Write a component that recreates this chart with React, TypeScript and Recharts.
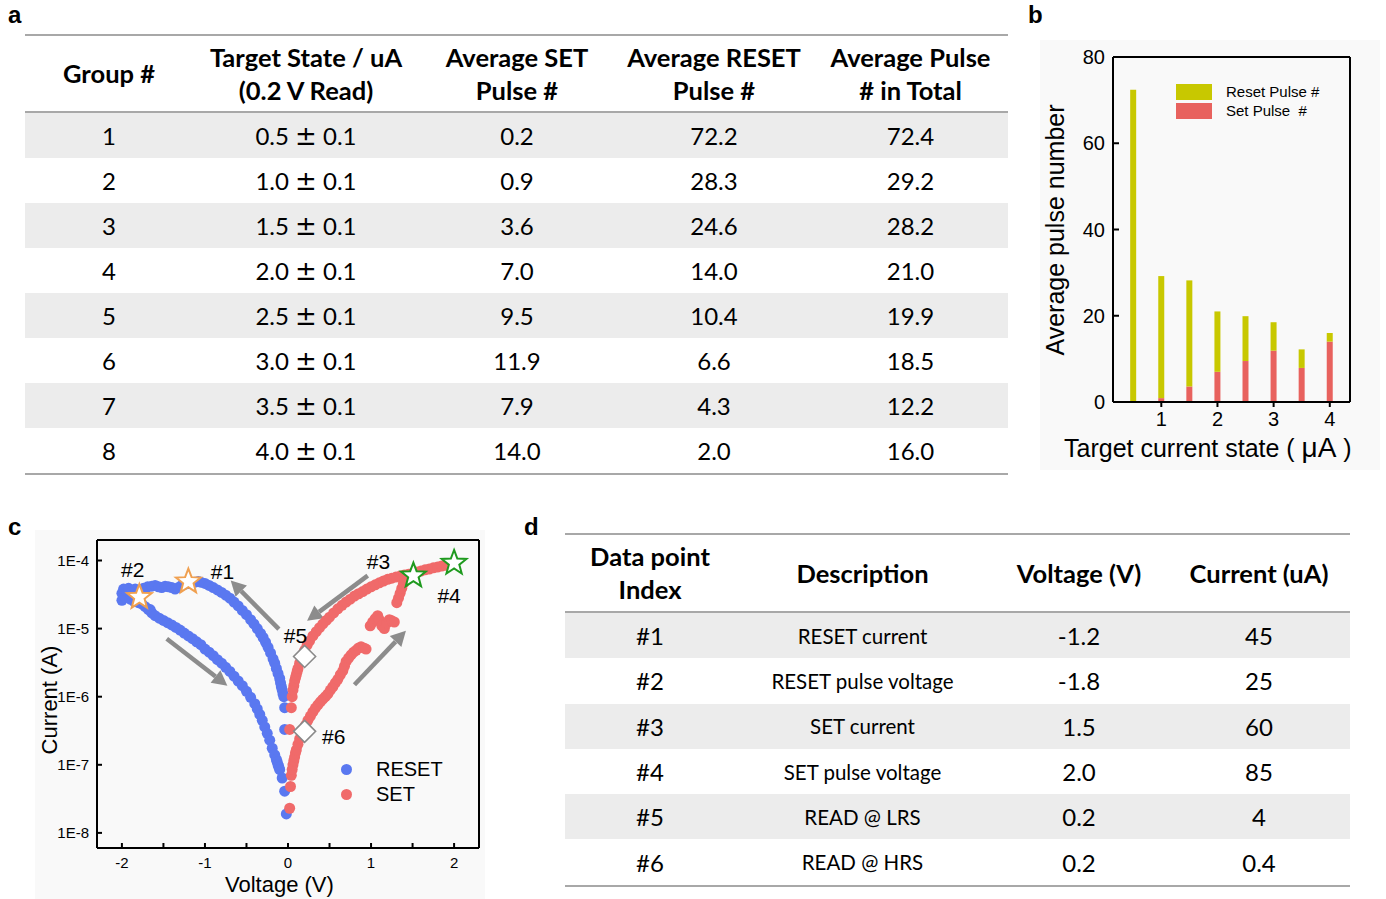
import React from "react";
import {
  BarChart,
  Bar,
  XAxis,
  YAxis,
  ScatterChart,
  Scatter,
  ReferenceLine,
  Legend,
} from "recharts";

// ─── Table a / panel b data ────────────────────────────────────────────────
const groups = ["1", "2", "3", "4", "5", "6", "7", "8"];
const targetStates = ["0.5", "1.0", "1.5", "2.0", "2.5", "3.0", "3.5", "4.0"];
const targetCurrents = [0.5, 1.0, 1.5, 2.0, 2.5, 3.0, 3.5, 4.0];
const setPulses = [0.2, 0.9, 3.6, 7.0, 9.5, 11.9, 7.9, 14.0];
const resetPulses = [72.2, 28.3, 24.6, 14.0, 10.4, 6.6, 4.3, 2.0];
const totalPulses = [72.4, 29.2, 28.2, 21.0, 19.9, 18.5, 12.2, 16.0];
const bXTicks = [1, 2, 3, 4];
const bYTicks = [0, 20, 40, 60, 80];
const bYMinorTicks = [0, 10, 20, 30, 40, 50, 60, 70, 80];

// ─── Table d data ──────────────────────────────────────────────────────────
const pointIndex = ["#1", "#2", "#3", "#4", "#5", "#6"];
const pointDesc = [
  "RESET current",
  "RESET pulse voltage",
  "SET current",
  "SET pulse voltage",
  "READ @ LRS",
  "READ @ HRS",
];
const pointVoltage = ["-1.2", "-1.8", "1.5", "2.0", "0.2", "0.2"];
const pointCurrent = ["45", "25", "60", "85", "4", "0.4"];

// ─── Panel c data (voltage V, current A) ───────────────────────────────────
const resetTop: [number, number][] = [
  [-2.0, 2.6e-5], [-2.0, 3.3e-5], [-1.98, 3.8e-5], [-1.96, 2.9e-5], [-1.94, 3.5e-5],
  [-1.92, 3.9e-5], [-1.9, 2.7e-5], [-1.88, 3.4e-5], [-1.85, 2.5e-5], [-1.84, 3.8e-5],
  [-1.8, 2.4e-5], [-1.79, 3.6e-5], [-1.76, 2.3e-5], [-1.74, 3.9e-5], [-1.72, 2.1e-5],
  [-1.69, 4.1e-5], [-1.68, 1.9e-5], [-1.64, 4.2e-5], [-1.64, 1.7e-5], [-1.6, 4.3e-5],
  [-1.56, 4.1e-5], [-1.52, 4.0e-5], [-1.48, 4.2e-5], [-1.44, 4.1e-5], [-1.4, 4.0e-5],
  [-1.36, 3.8e-5], [-1.32, 4.0e-5], [-1.28, 4.3e-5], [-1.24, 4.5e-5], [-1.2, 4.6e-5],
  [-1.16, 4.7e-5], [-1.12, 4.8e-5], [-1.08, 4.9e-5],
];
const resetUpper: [number, number][] = [
  [-1.05, 4.8e-5], [-1.0, 4.6e-5], [-0.95, 4.3e-5], [-0.9, 4.0e-5], [-0.85, 3.7e-5],
  [-0.8, 3.4e-5], [-0.75, 3.1e-5], [-0.7, 2.8e-5], [-0.65, 2.45e-5], [-0.6, 2.15e-5],
  [-0.55, 1.85e-5], [-0.5, 1.6e-5], [-0.45, 1.35e-5], [-0.41, 1.17e-5], [-0.37, 1.0e-5],
  [-0.33, 8.5e-6], [-0.3, 7.4e-6], [-0.27, 6.3e-6], [-0.24, 5.3e-6], [-0.21, 4.4e-6],
  [-0.18, 3.6e-6], [-0.16, 3.1e-6], [-0.14, 2.6e-6], [-0.12, 2.2e-6], [-0.1, 1.85e-6],
  [-0.09, 1.6e-6], [-0.08, 1.4e-6], [-0.07, 1.25e-6], [-0.06, 1.1e-6], [-0.05, 1.0e-6],
  [-0.04, 6.9e-7], [-0.04, 3.3e-7],
];
const resetLower: [number, number][] = [
  [-1.66, 1.9e-5], [-1.6, 1.55e-5], [-1.55, 1.42e-5], [-1.5, 1.32e-5], [-1.45, 1.22e-5],
  [-1.4, 1.13e-5], [-1.35, 1.04e-5], [-1.3, 9.5e-6], [-1.25, 8.6e-6], [-1.2, 7.8e-6],
  [-1.15, 7.1e-6], [-1.1, 6.4e-6], [-1.05, 5.8e-6], [-1.0, 5.0e-6], [-0.95, 4.5e-6],
  [-0.9, 4.0e-6], [-0.85, 3.5e-6], [-0.8, 3.1e-6], [-0.75, 2.7e-6], [-0.7, 2.35e-6],
  [-0.65, 2.0e-6], [-0.6, 1.7e-6], [-0.55, 1.45e-6], [-0.5, 1.2e-6], [-0.45, 9.8e-7],
  [-0.4, 7.9e-7], [-0.37, 6.6e-7], [-0.34, 5.5e-7], [-0.31, 4.5e-7], [-0.28, 3.6e-7],
  [-0.25, 2.9e-7], [-0.22, 2.3e-7], [-0.19, 1.75e-7], [-0.16, 1.4e-7], [-0.14, 1.2e-7],
  [-0.13, 1.1e-7], [-0.12, 1.0e-7], [-0.11, 9.2e-8], [-0.1, 8.5e-8], [-0.07, 6.4e-8],
  [-0.04, 4.1e-8], [-0.02, 1.9e-8],
];
const setUpper: [number, number][] = [
  [0.04, 6.9e-7], [0.02, 3.3e-7],
  [0.05, 1.0e-6], [0.06, 1.25e-6], [0.07, 1.45e-6], [0.08, 1.7e-6], [0.09, 1.9e-6],
  [0.1, 2.1e-6], [0.11, 2.35e-6], [0.12, 2.6e-6], [0.14, 3.1e-6], [0.16, 3.6e-6],
  [0.18, 4.2e-6], [0.2, 4.8e-6], [0.23, 5.7e-6], [0.26, 6.6e-6], [0.3, 7.8e-6],
  [0.34, 9.0e-6], [0.38, 1.03e-5], [0.42, 1.17e-5], [0.46, 1.32e-5], [0.5, 1.47e-5],
  [0.55, 1.7e-5], [0.6, 1.95e-5], [0.65, 2.2e-5], [0.7, 2.45e-5], [0.75, 2.7e-5],
  [0.8, 3.0e-5], [0.85, 3.25e-5], [0.9, 3.5e-5], [0.95, 3.8e-5], [1.0, 4.1e-5],
  [1.05, 4.4e-5], [1.1, 4.7e-5], [1.15, 5.0e-5], [1.2, 5.3e-5], [1.25, 5.5e-5],
  [1.3, 5.7e-5], [1.35, 5.9e-5], [1.4, 6.1e-5], [1.45, 6.3e-5], [1.5, 6.5e-5],
  [1.55, 6.8e-5], [1.6, 7.0e-5], [1.65, 7.3e-5], [1.7, 7.5e-5], [1.75, 7.8e-5],
  [1.8, 8.0e-5], [1.85, 8.3e-5], [1.9, 8.5e-5], [1.95, 8.7e-5], [2.0, 8.9e-5],
];
const setLower: [number, number][] = [
  [0.02, 2.3e-8], [0.03, 4.8e-8], [0.04, 7.0e-8], [0.05, 8.5e-8], [0.06, 1.0e-7],
  [0.07, 1.15e-7], [0.08, 1.3e-7], [0.09, 1.5e-7], [0.1, 1.65e-7], [0.12, 2.0e-7],
  [0.14, 2.4e-7], [0.16, 2.8e-7], [0.18, 3.2e-7], [0.21, 3.8e-7], [0.24, 4.5e-7],
  [0.27, 5.2e-7], [0.3, 6.0e-7], [0.33, 6.8e-7], [0.36, 7.6e-7], [0.39, 8.4e-7],
  [0.42, 9.2e-7], [0.45, 1.0e-6], [0.48, 1.1e-6], [0.51, 1.25e-6], [0.54, 1.4e-6],
  [0.57, 1.6e-6], [0.6, 1.8e-6], [0.63, 2.1e-6], [0.66, 2.4e-6], [0.68, 2.8e-6],
  [0.7, 3.3e-6], [0.73, 3.7e-6], [0.76, 4.1e-6], [0.79, 4.5e-6], [0.82, 4.8e-6],
  [0.85, 5.2e-6], [0.88, 5.4e-6], [0.91, 5.2e-6], [0.94, 5.0e-6], [0.99, 1.1e-5],
  [1.02, 1.25e-5], [1.05, 1.4e-5], [1.08, 1.55e-5], [1.1, 1.35e-5], [1.13, 1.1e-5],
  [1.16, 1.0e-5], [1.19, 1.2e-5], [1.22, 1.35e-5], [1.25, 1.3e-5], [1.28, 1.25e-5],
  [1.31, 2.4e-5], [1.33, 2.8e-5], [1.35, 3.3e-5], [1.37, 3.9e-5], [1.39, 4.6e-5],
  [1.41, 5.3e-5],
];
const orangeStars: [number, number][] = [[-1.79, 2.9e-5], [-1.2, 4.9e-5]];
const greenStars: [number, number][] = [[1.51, 6.0e-5], [2.0, 9.2e-5]];
const readDiamonds: [number, number][] = [[0.2, 3.9e-6], [0.2, 3.1e-7]];
const pointLabels: { v: number; i: number; text: string }[] = [
  { v: -1.87, i: 7.3e-5, text: "#2" },
  { v: -0.79, i: 6.8e-5, text: "#1" },
  { v: 1.09, i: 9.6e-5, text: "#3" },
  { v: 1.94, i: 3.1e-5, text: "#4" },
  { v: 0.09, i: 7.8e-6, text: "#5" },
  { v: 0.55, i: 2.6e-7, text: "#6" },
];
// sweep-direction arrows: [from, to]
const sweepArrows: [number, number, number, number][] = [
  [-1.46, 7.1e-6, -0.73, 1.45e-6],
  [-0.11, 9.8e-6, -0.69, 5.1e-5],
  [0.96, 6.0e-5, 0.23, 1.3e-5],
  [0.8, 1.5e-6, 1.42, 9.3e-6],
];
const cXTicks = [-2, -1.5, -1, -0.5, 0, 0.5, 1, 1.5, 2];
const cYTicks = [1e-8, 1e-7, 1e-6, 1e-5, 1e-4];

const ARIAL = "'Liberation Sans', Arial, sans-serif";
const TABLE_FONT = "Lato, 'Open Sans', sans-serif";
const RULE = "#a8a8a8";
const STRIPE = "#ececec";

const toPts = (arr: [number, number][]) => arr.map(([v, i]) => ({ v, i }));

// ─── Generic table ─────────────────────────────────────────────────────────
function DataTable(props: {
  left: number;
  top: number;
  widths: number[];
  header: string[][];
  rows: React.ReactNode[][];
  headerH: number;
  rowH: number;
  sizes: number[];
}) {
  const { left, top, widths, header, rows, headerH, rowH, sizes } = props;
  const total = widths.reduce((a, b) => a + b, 0);
  return (
    <div style={{ position: "absolute", left, top, width: total, fontFamily: TABLE_FONT, color: "#000" }}>
      <div style={{ borderTop: `2px solid ${RULE}`, borderBottom: `2px solid ${RULE}`, height: headerH, display: "flex" }}>
        {header.map((lines, c) => (
          <div
            key={c}
            style={{
              width: widths[c],
              display: "flex",
              flexDirection: "column",
              justifyContent: "center",
              alignItems: "center",
              fontWeight: 700,
              fontSize: 25.5,
              lineHeight: "33px",
              whiteSpace: "nowrap",
            }}
          >
            {lines.map((l, k) => (
              <div key={k}>{l}</div>
            ))}
          </div>
        ))}
      </div>
      {rows.map((r, ri) => (
        <div key={ri} style={{ display: "flex", height: rowH, background: ri % 2 === 0 ? STRIPE : "#fff" }}>
          {r.map((cell, c) => (
            <div
              key={c}
              style={{
                width: widths[c],
                display: "flex",
                alignItems: "center",
                justifyContent: "center",
                fontSize: sizes[c],
                whiteSpace: "pre",
              }}
            >
              {cell}
            </div>
          ))}
        </div>
      ))}
      <div style={{ borderTop: `2px solid ${RULE}` }} />
    </div>
  );
}

// ─── Panel b ───────────────────────────────────────────────────────────────
const pulseData = targetCurrents.map((x, k) => ({ x, set: setPulses[k], reset: resetPulses[k] }));

function PulseLegend() {
  const items = [
    { label: "Reset Pulse #", color: "#c8c800" },
    { label: "Set Pulse  #", color: "#e8625e" },
  ];
  return (
    <div style={{ fontFamily: ARIAL, fontSize: 15, whiteSpace: "pre" }}>
      {items.map((it) => (
        <div key={it.label} style={{ display: "flex", alignItems: "center", height: 19 }}>
          <div style={{ width: 36, height: 16, background: it.color, marginRight: 14 }} />
          <span>{it.label}</span>
        </div>
      ))}
    </div>
  );
}

function LeftTick(props: any) {
  const { x, y, payload } = props;
  return (
    <text x={x} y={y} textAnchor="end" dominantBaseline="central" fontFamily={ARIAL} fontSize={20} fill="#000">
      {payload.value}
    </text>
  );
}

function PulseChart() {
  return (
    <div style={{ position: "absolute", left: 1040, top: 40, width: 340, height: 430, background: "#f9f9f9" }}>
      <BarChart width={340} height={430} data={pulseData} margin={{ top: 16, right: 30, bottom: 40, left: 0 }}>
        <XAxis
          dataKey="x"
          type="number"
          domain={[0.14, 4.36]}
          ticks={bXTicks}
          allowDataOverflow
          height={28}
          tickSize={5}
          tickMargin={5}
          stroke="#000"
          strokeWidth={2}
          tick={{ fontFamily: ARIAL, fontSize: 20, fill: "#000" }}
        />
        <XAxis xAxisId="top" orientation="top" type="number" domain={[0.14, 4.36]} height={1} tick={false} tickLine={false} stroke="#000" strokeWidth={2} />
        <YAxis
          type="number"
          domain={[0, 80]}
          ticks={bYTicks}
          width={73}
          tickSize={-6}
          tickMargin={14}
          stroke="#000"
          strokeWidth={2}
          tick={<LeftTick />}
        />
        <YAxis yAxisId="right" orientation="right" type="number" domain={[0, 80]} ticks={bYMinorTicks} width={1} mirror tickSize={6} tick={false} stroke="#000" strokeWidth={2} />
        <Legend
          layout="vertical"
          align="center"
          verticalAlign="middle"
          wrapperStyle={{ left: 136, top: 42, width: 180 }}
          content={<PulseLegend />}
        />
        <Bar dataKey="set" stackId="p" fill="#e8625e" barSize={6} isAnimationActive={false} />
        <Bar dataKey="reset" stackId="p" fill="#c8c800" barSize={6} isAnimationActive={false} />
      </BarChart>
      <div
        style={{
          position: "absolute",
          left: 15,
          top: 190,
          transform: "translate(-50%, -50%) rotate(-90deg)",
          fontFamily: ARIAL,
          fontSize: 25,
          whiteSpace: "nowrap",
        }}
      >
        Average pulse number
      </div>
      <div style={{ position: "absolute", left: 24, top: 394, fontFamily: ARIAL, fontSize: 25, lineHeight: "28px", whiteSpace: "pre" }}>
        {"Target current state ( "}
        <span style={{ fontSize: 28 }}>μA</span>
        {" )"}
      </div>
    </div>
  );
}

// ─── Panel c ───────────────────────────────────────────────────────────────
function Dot(color: string) {
  return (p: any) => <circle cx={p.cx} cy={p.cy} r={5.5} fill={color} />;
}

function starPath(cx: number, cy: number, ro: number, ri: number) {
  const pts: string[] = [];
  for (let k = 0; k < 10; k++) {
    const r = k % 2 === 0 ? ro : ri;
    const a = -Math.PI / 2 + (k * Math.PI) / 5;
    pts.push(`${cx + r * Math.cos(a)},${cy + r * Math.sin(a)}`);
  }
  return pts.join(" ");
}

function Star(color: string) {
  return (p: any) => (
    <polygon points={starPath(p.cx, p.cy, 13, 5.5)} fill="#fff" stroke={color} strokeWidth={2} strokeLinejoin="miter" />
  );
}

function Diamond(p: any) {
  const d = 11;
  return (
    <polygon
      points={`${p.cx},${p.cy - d} ${p.cx + d},${p.cy} ${p.cx},${p.cy + d} ${p.cx - d},${p.cy}`}
      fill="#fff"
      stroke="#8a8a8a"
      strokeWidth={1.6}
    />
  );
}

function PointLabel(p: any) {
  return (
    <text x={p.cx} y={p.cy} textAnchor="middle" dominantBaseline="central" fontFamily={ARIAL} fontSize={21} fill="#000">
      {p.payload.text}
    </text>
  );
}

function Arrow(p: any) {
  const x1 = p.x1 ?? p.points?.[0]?.x;
  const y1 = p.y1 ?? p.points?.[0]?.y;
  const x2 = p.x2 ?? p.points?.[1]?.x;
  const y2 = p.y2 ?? p.points?.[1]?.y;
  if ([x1, y1, x2, y2].some((n) => typeof n !== "number" || isNaN(n))) return null;
  const dx = x2 - x1;
  const dy = y2 - y1;
  const len = Math.hypot(dx, dy) || 1;
  const ux = dx / len;
  const uy = dy / len;
  const head = 15;
  const hw = 8;
  const bx = x2 - ux * head;
  const by = y2 - uy * head;
  return (
    <g>
      <line x1={x1} y1={y1} x2={bx} y2={by} stroke="#8c8c8c" strokeWidth={4.5} />
      <polygon points={`${x2},${y2} ${bx - uy * hw},${by + ux * hw} ${bx + uy * hw},${by - ux * hw}`} fill="#8c8c8c" />
    </g>
  );
}

function IvLegend() {
  const items = [
    { label: "RESET", color: "#5a78f0" },
    { label: "SET", color: "#f06a6a" },
  ];
  return (
    <div style={{ fontFamily: ARIAL, fontSize: 20 }}>
      {items.map((it) => (
        <div key={it.label} style={{ display: "flex", alignItems: "center", height: 25 }}>
          <div style={{ width: 11, height: 11, borderRadius: "50%", background: it.color, marginRight: 24 }} />
          <span>{it.label}</span>
        </div>
      ))}
    </div>
  );
}

function fmtE(v: number) {
  return "1E" + Math.round(Math.log10(v));
}

function XTickC(props: any) {
  const { x, y, payload } = props;
  if (!Number.isInteger(payload.value)) return null;
  return (
    <text x={x} y={y} textAnchor="middle" dominantBaseline="hanging" fontFamily={ARIAL} fontSize={15} fill="#000">
      {payload.value}
    </text>
  );
}

function YTickC(props: any) {
  const { x, y, payload } = props;
  return (
    <text x={x} y={y} textAnchor="end" dominantBaseline="central" fontFamily={ARIAL} fontSize={15} fill="#000">
      {fmtE(payload.value)}
    </text>
  );
}

function IvChart() {
  const reset = toPts([...resetTop, ...resetUpper, ...resetLower]);
  const set = toPts([...setUpper, ...setLower]);
  return (
    <div style={{ position: "absolute", left: 35, top: 530, width: 450, height: 369, background: "#f9f9f9" }}>
      <ScatterChart width={450} height={369} margin={{ top: 10, right: 6, bottom: 0, left: 0 }}>
        <XAxis
          dataKey="v"
          type="number"
          domain={[-2.3, 2.3]}
          ticks={cXTicks}
          allowDataOverflow
          height={51}
          tickSize={-5}
          tickMargin={14}
          stroke="#000"
          strokeWidth={2}
          tick={<XTickC />}
        />
        <XAxis xAxisId="top" orientation="top" type="number" domain={[-2.3, 2.3]} ticks={cXTicks} height={1} mirror tickSize={5} tick={false} stroke="#000" strokeWidth={2} />
        <YAxis
          dataKey="i"
          type="number"
          scale="log"
          domain={[6e-9, 2e-4]}
          ticks={cYTicks}
          allowDataOverflow
          width={62}
          tickSize={-5}
          tickMargin={13}
          stroke="#000"
          strokeWidth={2}
          tick={<YTickC />}
        />
        <YAxis yAxisId="right" orientation="right" type="number" scale="log" domain={[6e-9, 2e-4]} ticks={cYTicks} allowDataOverflow width={1} mirror tickSize={6} tick={false} stroke="#000" strokeWidth={2} />
        <Legend
          layout="vertical"
          align="center"
          verticalAlign="middle"
          wrapperStyle={{ left: 306, top: 227, width: 120 }}
          content={<IvLegend />}
        />
        <Scatter name="RESET" data={reset} shape={Dot("#5a78f0")} isAnimationActive={false} />
        <Scatter name="SET" data={set} shape={Dot("#f06a6a")} isAnimationActive={false} />
        {sweepArrows.map(([v1, i1, v2, i2], k) => (
          <ReferenceLine
            key={k}
            segment={[
              { x: v1, y: i1 },
              { x: v2, y: i2 },
            ]}
            ifOverflow="visible"
            shape={Arrow}
          />
        ))}
        <Scatter data={toPts(orangeStars)} shape={Star("#f0a050")} isAnimationActive={false} />
        <Scatter data={toPts(greenStars)} shape={Star("#1e9a1e")} isAnimationActive={false} />
        <Scatter data={toPts(readDiamonds)} shape={Diamond} isAnimationActive={false} />
        <Scatter data={pointLabels} shape={PointLabel} isAnimationActive={false} />
      </ScatterChart>
      <div
        style={{
          position: "absolute",
          left: 15,
          top: 170,
          transform: "translate(-50%, -50%) rotate(-90deg)",
          fontFamily: ARIAL,
          fontSize: 22,
          whiteSpace: "nowrap",
        }}
      >
        Current (A)
      </div>
      <div style={{ position: "absolute", left: 190, top: 342, fontFamily: ARIAL, fontSize: 22, whiteSpace: "nowrap" }}>
        Voltage (V)
      </div>
    </div>
  );
}

function PanelLetter({ x, y, ch }: { x: number; y: number; ch: string }) {
  return (
    <div style={{ position: "absolute", left: x, top: y, fontFamily: ARIAL, fontWeight: 700, fontSize: 24, lineHeight: "24px" }}>
      {ch}
    </div>
  );
}

function PlusMinus({ base }: { base: string }) {
  return (
    <span>
      {base + " "}
      <span style={{ fontFamily: "'DejaVu Sans', sans-serif", fontWeight: 400, fontSize: 26, lineHeight: "24px" }}>±</span>
      {" 0.1"}
    </span>
  );
}

export default function App() {
  const rowsA = groups.map((g, k) => [
    g,
    <PlusMinus base={targetStates[k]} />,
    setPulses[k].toFixed(1),
    resetPulses[k].toFixed(1),
    totalPulses[k].toFixed(1),
  ]);
  const rowsD = pointIndex.map((p, k) => [p, pointDesc[k], pointVoltage[k], pointCurrent[k]]);
  return (
    <div style={{ position: "absolute", left: 0, top: 0, width: 1386, height: 899, background: "#fff", overflow: "hidden" }}>
      <PanelLetter x={8} y={3} ch="a" />
      <PanelLetter x={1028} y={3} ch="b" />
      <PanelLetter x={8} y={515} ch="c" />
      <PanelLetter x={524} y={515} ch="d" />
      <DataTable
        left={25}
        top={34}
        widths={[168, 226, 196, 198, 195]}
        header={[["Group #"], ["Target State / uA", "(0.2 V Read)"], ["Average SET", "Pulse #"], ["Average RESET", "Pulse #"], ["Average Pulse", "# in Total"]]}
        rows={rowsA}
        headerH={75}
        rowH={45}
        sizes={[24, 24, 24, 24, 24]}
      />
      <DataTable
        left={565}
        top={533}
        widths={[170, 255, 178, 182]}
        header={[["Data point", "Index"], ["Description"], ["Voltage (V)"], ["Current (uA)"]]}
        rows={rowsD}
        headerH={76}
        rowH={45.3}
        sizes={[24, 20.5, 24, 24]}
      />
      <PulseChart />
      <IvChart />
    </div>
  );
}
